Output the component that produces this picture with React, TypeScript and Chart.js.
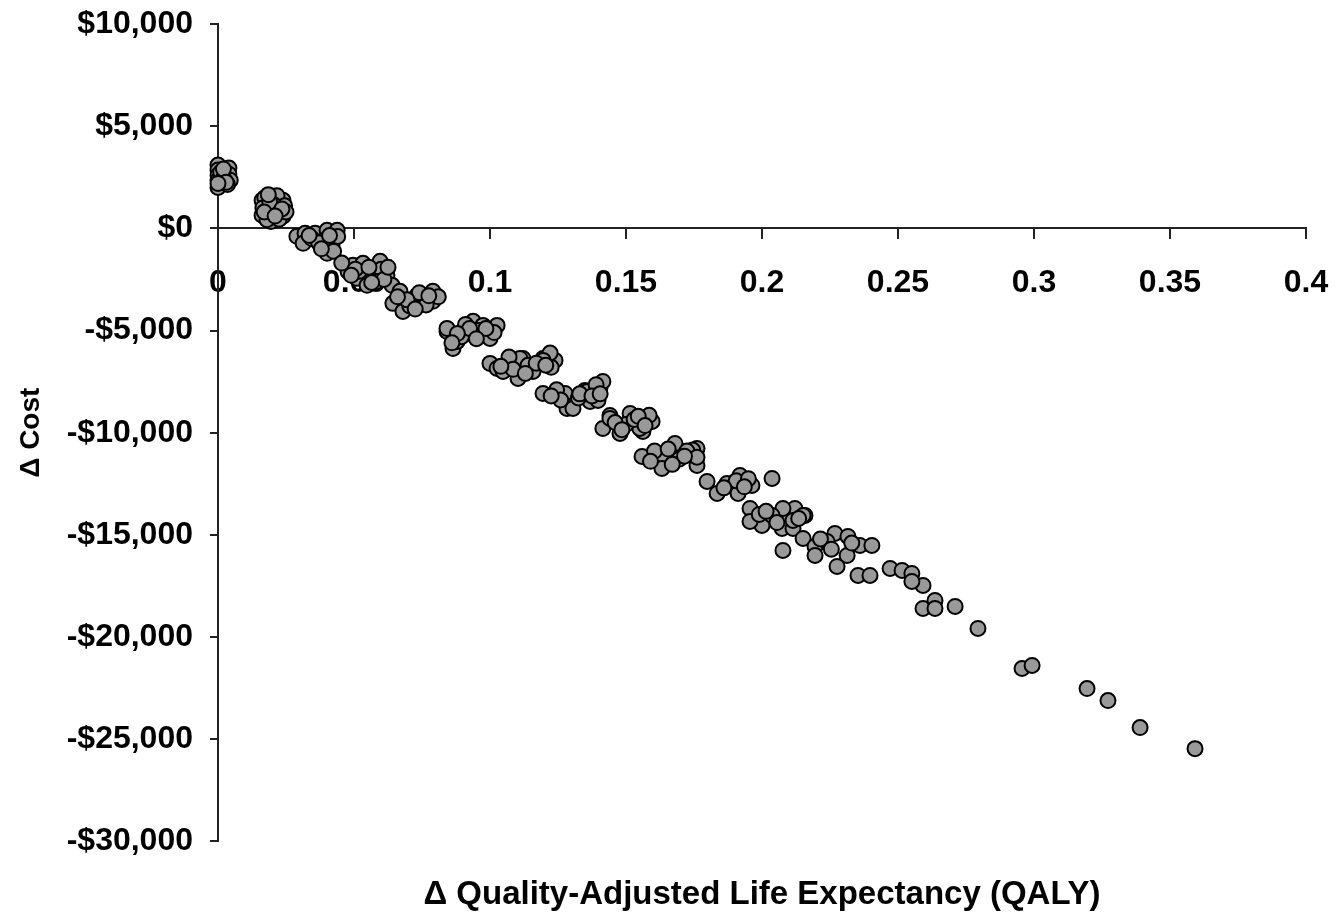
import React, { useEffect, useRef } from 'react';
import { Chart, registerables } from 'chart.js';

Chart.register(...registerables);

const X_TICK_LABELS = ['0', '0.05', '0.1', '0.15', '0.2', '0.25', '0.3', '0.35', '0.4'];
const Y_TICK_LABELS = ['-$30,000', '-$25,000', '-$20,000', '-$15,000', '-$10,000', '-$5,000', '$0', '$5,000', '$10,000'];

// Δ QALY (x) and Δ Cost (y), same order
const DELTA_QALY = [
  // near zero
  0, 0, 0, 0, 0, 0.004, 0.004, 0.0045, 0.0035, 0.001, 0.002, 0.002, 0.003, 0,
  // ~0.02
  0.0162, 0.0202, 0.0239, 0.0162, 0.0202, 0.0239, 0.0195, 0.0217, 0.0172, 0.0245, 0.0165, 0.0205, 0.0225, 0.018, 0.025,
  0.019, 0.0235, 0.017, 0.021, 0.0185,
  // ~0.035
  0.029, 0.032, 0.0357, 0.0401, 0.0438, 0.0393, 0.0419, 0.0313, 0.0401, 0.0345, 0.044, 0.0425,
  0.037, 0.0335, 0.041, 0.038,
  // ~0.055
  0.0478, 0.0496, 0.0533, 0.0596, 0.057, 0.0511, 0.0621, 0.0548, 0.064, 0.0455, 0.06, 0.052, 0.0585,
  0.0505, 0.0555, 0.061, 0.049, 0.0565, 0.0625,
  // ~0.072
  0.0669, 0.0732, 0.079, 0.0643, 0.0717, 0.079, 0.068, 0.0755, 0.081, 0.0705, 0.0765,
  0.074, 0.0695, 0.0775, 0.066, 0.0725,
  // ~0.092
  0.0842, 0.0915, 0.0993, 0.0938, 0.0864, 0.1026, 0.0879, 0.0974, 0.1, 0.0842, 0.0955, 0.091, 0.1015, 0.0895,
  0.0925, 0.088, 0.0985, 0.095, 0.086,
  // ~0.112
  0.1, 0.1074, 0.1121, 0.1195, 0.1239, 0.1158, 0.1103, 0.1026, 0.1048, 0.1221, 0.111, 0.1195, 0.114, 0.107, 0.1225,
  0.1085, 0.117, 0.113, 0.1205, 0.104,
  // ~0.132
  0.1195, 0.1276, 0.1349, 0.1404, 0.1283, 0.1368, 0.1415, 0.1357, 0.1305, 0.1397, 0.1245, 0.1325, 0.139,
  0.126, 0.133, 0.1375, 0.1225, 0.1405,
  // ~0.15
  0.1441, 0.1515, 0.1596, 0.1415, 0.1562, 0.1478, 0.1551, 0.1441, 0.1585, 0.15, 0.153,
  0.146, 0.1545, 0.157, 0.1485,
  // ~0.168
  0.1559, 0.1636, 0.1724, 0.168, 0.1761, 0.1761, 0.1632, 0.1745, 0.1724, 0.1605, 0.1695, 0.1761,
  0.1655, 0.1715, 0.159, 0.167,
  // ~0.188
  0.1798, 0.1871, 0.1919, 0.1963, 0.1912, 0.1835, 0.1905, 0.195, 0.186, 0.1935,
  0.2037,
  // ~0.205
  0.1956, 0.2029, 0.2121, 0.2158, 0.2, 0.2077, 0.1956, 0.2077, 0.2151, 0.2074, 0.2114, 0.2114, 0.2037,
  0.199, 0.2055, 0.2135, 0.2015,
  0.2077,
  // ~0.228
  0.2151, 0.2195, 0.2268, 0.2316, 0.236, 0.2404, 0.2313, 0.2195, 0.2239, 0.2276, 0.2353, 0.2397,
  0.2215, 0.233, 0.2255,
  // ~0.25
  0.2471, 0.2515, 0.2551, 0.2592, 0.2551,
  0.2592, 0.2636, 0.2636, 0.271,
  // tail
  0.2794, 0.2956, 0.2993, 0.3195, 0.3272, 0.339, 0.3592,
];

const DELTA_COST = [
  3100, 2850, 2600, 2350, 2000, 2950, 2650, 2350, 2150, 2750, 2450, 2900, 2250, 2200,
  1370, 1570, 1370, 640, 830, 590, 340, 1600, 1500, 1100, 1000, 1150, 450, 420, 800,
  1300, 950, 800, 600, 1650,
  -390, -245, -245, -98, -98, -587, -832, -734, -1224, -500, -400, -1126,
  -700, -350, -350, -1000,
  -2105, -1811, -1713, -1615, -2301, -2448, -2301, -2790, -2790, -1700, -2000, -2100, -2600,
  -2000, -1900, -2500, -2300, -2650, -1900,
  -3084, -3280, -3084, -3671, -3573, -3573, -4063, -3400, -3350, -3800, -3750,
  -3150, -3500, -3300, -3350, -3950,
  -5042, -5140, -5287, -4552, -5874, -4748, -5531, -4748, -5385, -4895, -5000, -4700, -5100, -5300,
  -4900, -5150, -4900, -5400, -5600,
  -6608, -6608, -6364, -6364, -6461, -7000, -7343, -6853, -7000, -6100, -6364, -6461, -6700, -6300, -6800,
  -6900, -6600, -7100, -6700, -6750,
  -8077, -8077, -7930, -7832, -8811, -8468, -7489, -7979, -8811, -8419, -7900, -8300, -7650,
  -8400, -8100, -8200, -8200, -8100,
  -9154, -9056, -9447, -9790, -9937, -10035, -9790, -9301, -9150, -9600, -9350,
  -9500, -9200, -9650, -9850,
  -11161, -11112, -10916, -10524, -10769, -11601, -11748, -10850, -10900, -10900, -11300, -11200,
  -10800, -11150, -11400, -11550,
  -12384, -12482, -12091, -12580, -12972, -12972, -12350, -12250, -12700, -12650,
  -12238,
  -13706, -14049, -13706, -14049, -14538, -14342, -14342, -13706, -14049, -14685, -14685, -14293, -14049,
  -14000, -14400, -14200, -13850,
  -15762,
  -15175, -15566, -14930, -15077, -15517, -15517, -16007, -16007, -15322, -16545, -16986, -16986,
  -15200, -15400, -15700,
  -16643, -16741, -16888, -17475, -17280,
  -18601, -18209, -18601, -18503,
  -19580, -21540, -21390, -22520, -23110, -24430, -25460,
];

const FONT = '"Liberation Sans", Arial, Helvetica, sans-serif';
const AXIS_COLOR = '#222222';

const zeroPadding = (scale: any) => {
  scale.paddingTop = 0;
  scale.paddingBottom = 0;
  scale.paddingLeft = 0;
  scale.paddingRight = 0;
};

export default function App() {
  const ref = useRef<HTMLCanvasElement>(null);

  useEffect(() => {
    document.body.style.margin = '0';
    const points = DELTA_QALY.map((x, i) => ({ x, y: DELTA_COST[i] }));
    const chart = new Chart(ref.current as HTMLCanvasElement, {
      type: 'scatter',
      data: {
        datasets: [
          {
            data: points,
            backgroundColor: '#999999',
            borderColor: '#000000',
            borderWidth: 2,
            pointRadius: 7.5,
            pointHoverRadius: 7.5,
            clip: false,
          } as any,
        ],
      },
      options: {
        responsive: false,
        animation: false,
        devicePixelRatio: 1,
        events: [],
        layout: { padding: { left: 0, right: 35, top: 24, bottom: 0 } },
        plugins: {
          legend: { display: false },
          tooltip: { enabled: false },
          title: {
            display: true,
            position: 'bottom',
            fullSize: false,
            text: 'Δ Quality-Adjusted Life Expectancy (QALY)',
            color: '#000000',
            font: { family: FONT, size: 33, weight: 'bold' },
            padding: { top: 34, bottom: 3 },
          },
        },
        scales: {
          x: {
            type: 'linear',
            position: { y: 0 } as any,
            min: 0,
            max: 0.4,
            ticks: {
              stepSize: 0.05,
              autoSkip: false,
              maxRotation: 0,
              callback: (_v: any, i: number) => X_TICK_LABELS[i],
              color: '#000000',
              font: { family: FONT, size: 32, weight: 'bold' },
              padding: 26,
            },
            grid: {
              drawOnChartArea: false,
              drawTicks: true,
              tickLength: 10,
              color: AXIS_COLOR,
              lineWidth: 2,
            },
            border: { display: true, color: AXIS_COLOR, width: 2 },
            afterFit: zeroPadding,
          },
          y: {
            type: 'linear',
            position: 'left',
            min: -30000,
            max: 10000,
            ticks: {
              stepSize: 5000,
              autoSkip: false,
              callback: (_v: any, i: number) => Y_TICK_LABELS[i],
              color: '#000000',
              font: { family: FONT, size: 32, weight: 'bold' },
              padding: 17,
            },
            grid: {
              drawOnChartArea: false,
              drawTicks: true,
              tickLength: 8,
              color: AXIS_COLOR,
              lineWidth: 2,
            },
            border: { display: true, color: AXIS_COLOR, width: 2 },
            title: {
              display: true,
              text: 'Δ Cost',
              color: '#000000',
              font: { family: FONT, size: 28, weight: 'bold' },
              padding: { top: 14, bottom: 0 },
            },
            afterFit: (scale: any) => {
              zeroPadding(scale);
              scale.width = 218;
            },
          },
        },
      } as any,
    });
    return () => chart.destroy();
  }, []);

  return (
    <div style={{ position: 'absolute', left: 0, top: 0, width: 1341, height: 918 }}>
      <canvas ref={ref} width={1341} height={918} />
    </div>
  );
}
